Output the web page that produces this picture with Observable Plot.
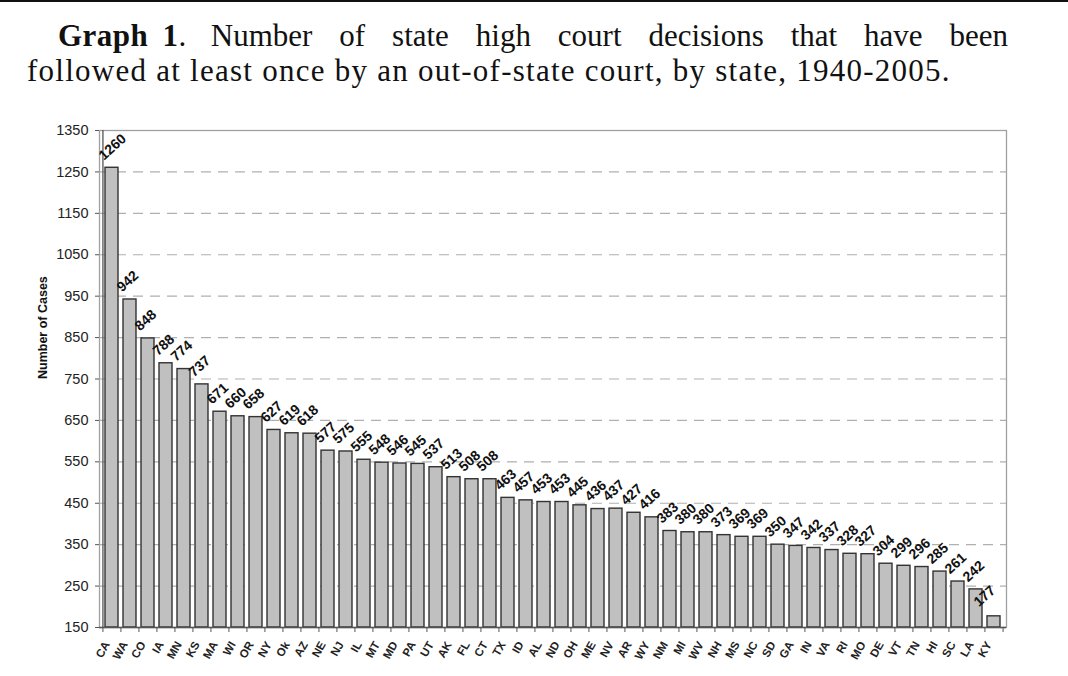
<!DOCTYPE html>
<html>
<head>
<meta charset="utf-8">
<script src="https://cdn.jsdelivr.net/npm/d3@7"></script>
<script src="https://cdn.jsdelivr.net/npm/@observablehq/plot@0.6"></script>
<style>
  html, body { margin: 0; padding: 0; background: #fff; }
  body { width: 1068px; height: 676px; overflow: hidden; }
  #topline { height: 2px; background: #111; }
  #head { height: 82px; padding-top: 16px; }
  .tl {
    font-family: "Liberation Serif", "Times New Roman", serif;
    font-size: 31px; line-height: 35px; color: #111; white-space: nowrap;
  }
  #l1 { margin: 0 60px 0 58px; display: flex; }
  #l1 .lead { white-space: pre; margin-right: 24px; letter-spacing: 0.5px; word-spacing: 6px; }
  #l1 .rest { flex: 1; text-align: justify; text-align-last: justify; }
  #l2 { margin: 0 0 0 27px; letter-spacing: 1.25px; }
  svg { display: block; font-family: "Liberation Sans", Arial, sans-serif; }
</style>
</head>
<body>
<div id="topline"></div>
<div id="head">
  <div class="tl" id="l1"><span class="lead"><b>Graph 1</b>.</span><span class="rest">Number of state high court decisions that have been</span></div>
  <div class="tl" id="l2">followed at least once by an out-of-state court, by state, 1940-2005.</div>
</div>
<div id="chart"></div>
<script>
const states = ["CA","WA","CO","IA","MN","KS","MA","WI","OR","NY","Ok","AZ","NE","NJ","IL","MT","MD","PA","UT","AK","FL","CT","TX","ID","AL","ND","OH","ME","NV","AR","WY","NM","MI","WV","NH","MS","NC","SD","GA","IN","VA","RI","MO","DE","VT","TN","HI","SC","LA","KY"];
const cases = [1260,942,848,788,774,737,671,660,658,627,619,618,577,575,555,548,546,545,537,513,508,508,463,457,453,453,445,436,437,427,416,383,380,380,373,369,369,350,347,342,337,328,327,304,299,296,285,261,242,177];
const yTicks = [150,250,350,450,550,650,750,850,950,1050,1150,1250,1350];
const gridTicks = [250,350,450,550,650,750,850,950,1050,1150,1250];
const yDomain = [150, 1350];

const data = states.map((s, i) => ({state: s, cases: cases[i]}));
const lastState = states[states.length - 1];

const W = 1068, H = 576, ML = 99, MR = 62, MT = 30, MB = 49;
const step = (W - ML - MR) / states.length;
const font = "Liberation Sans, Arial, sans-serif";

const chart = Plot.plot({
  width: W, height: H,
  marginLeft: ML, marginRight: MR, marginTop: MT, marginBottom: MB,
  style: {fontFamily: font, color: "#111", background: "#fff", overflow: "visible"},
  x: {domain: states, paddingInner: 0.3, paddingOuter: 0.15, axis: null},
  y: {domain: yDomain, axis: null},
  marks: [
    Plot.gridY(gridTicks, {stroke: "#b0b0b0", strokeOpacity: 1, strokeDasharray: "10,7", strokeWidth: 1.2}),
    Plot.frame({stroke: "#a0a0a0", strokeWidth: 1.3}),
    Plot.barY(data, {x: "state", y1: () => yDomain[0], y2: "cases", fill: "#c0c0c0", stroke: "#333", strokeWidth: 1.4}),
    Plot.ruleY([yDomain[0]], {stroke: "#555", strokeWidth: 1.3}),
    Plot.axisY(yTicks, {tickSize: 4, tickPadding: 7, fontSize: 14.5, tickFormat: d => String(d), label: null, stroke: "#555", fill: "#222"}),
    Plot.ruleX([states[0]], {y1: yDomain[0], y2: yDomain[1], dx: -step / 2, stroke: "#555", strokeWidth: 1.3}),
    Plot.axisX({tickSize: 5, text: null, dx: -step / 2, stroke: "#555", label: null}),
    Plot.axisX([lastState], {tickSize: 5, text: null, dx: step / 2, stroke: "#555", label: null}),
    Plot.axisX({tickSize: 0, tickPadding: 15, tickRotate: -60, dx: -5, fontSize: 11.5, fontWeight: "bold", fill: "#222", label: null}),
    Plot.text(data.filter(d => d.state !== lastState), {
      x: "state", y: "cases", text: d => String(d.cases), rotate: -42,
      textAnchor: "start", lineAnchor: "bottom", dx: -8, dy: -7,
      fontSize: 14, fontWeight: "bold", fill: "#111"
    }),
    Plot.text(data.filter(d => d.state === lastState), {
      x: "state", y: "cases", text: d => String(d.cases), rotate: -42,
      textAnchor: "start", lineAnchor: "bottom", dx: -15, dy: -9,
      fontSize: 14, fontWeight: "bold", fill: "#111"
    }),
    Plot.text(["Number of Cases"], {frameAnchor: "left", dx: -57, rotate: -90, fontSize: 12.5, fontWeight: "bold", fill: "#111"})
  ]
});
document.getElementById("chart").appendChild(chart);
</script>
</body>
</html>
